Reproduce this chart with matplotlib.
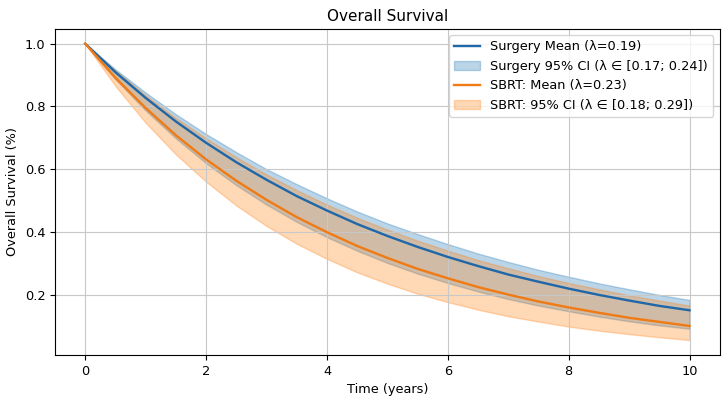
import numpy as np
import matplotlib
matplotlib.use("Agg")
from matplotlib import pyplot as plt

# time points (years) and survival
t = np.arange(0, 10.5, 0.5)

surgery_mean = [1.000, 0.909, 0.827, 0.752, 0.684, 0.622, 0.566, 0.514, 0.468, 0.425, 0.387,
                0.352, 0.320, 0.291, 0.264, 0.241, 0.219, 0.199, 0.181, 0.164, 0.150]
surgery_upper = [1.000, 0.918, 0.844, 0.775, 0.712, 0.654, 0.600, 0.552, 0.507, 0.465, 0.427,
                 0.393, 0.361, 0.331, 0.304, 0.279, 0.257, 0.236, 0.217, 0.199, 0.183]
surgery_lower = [1.000, 0.887, 0.787, 0.698, 0.619, 0.549, 0.487, 0.432, 0.383, 0.340, 0.301,
                 0.267, 0.237, 0.210, 0.186, 0.165, 0.147, 0.130, 0.115, 0.102, 0.091]

sbrt_mean = [1.000, 0.891, 0.795, 0.708, 0.631, 0.563, 0.502, 0.447, 0.399, 0.355, 0.317,
             0.282, 0.252, 0.224, 0.200, 0.178, 0.159, 0.142, 0.126, 0.113, 0.100]
sbrt_upper = [1.000, 0.914, 0.835, 0.763, 0.698, 0.638, 0.583, 0.533, 0.487, 0.445, 0.407,
              0.372, 0.340, 0.310, 0.284, 0.259, 0.237, 0.217, 0.198, 0.181, 0.165]
sbrt_lower = [1.000, 0.865, 0.748, 0.647, 0.560, 0.484, 0.419, 0.362, 0.314, 0.271, 0.235,
              0.203, 0.176, 0.152, 0.131, 0.114, 0.098, 0.085, 0.074, 0.064, 0.055]

labels = ["Surgery Mean (λ=0.19)", "Surgery 95% CI (λ ∈ [0.17; 0.24])",
          "SBRT: Mean (λ=0.23)", "SBRT: 95% CI (λ ∈ [0.18; 0.29])"]

plt.rcParams["font.size"] = 9.3

fig = plt.figure(figsize=(7.27, 4.01), dpi=100)
ax = fig.add_axes([0.0757, 0.115, 0.9143, 0.813])

ax.plot(t, surgery_mean, color="#1f67a8", lw=1.7, label=labels[0])
ax.fill_between(t, surgery_lower, surgery_upper, color="tab:blue", alpha=0.3, label=labels[1])
ax.plot(t, sbrt_mean, color="#f07a14", lw=1.7, label=labels[2])
ax.fill_between(t, sbrt_lower, sbrt_upper, color="tab:orange", alpha=0.3, label=labels[3])

ax.set_title("Overall Survival", fontsize=11)
ax.set_xlabel("Time (years)")
ax.set_ylabel("Overall Survival (%)")
ax.grid(True, color="#c8c8c8")
ax.legend(loc="upper right")

fig.savefig("out.png", dpi=100)
